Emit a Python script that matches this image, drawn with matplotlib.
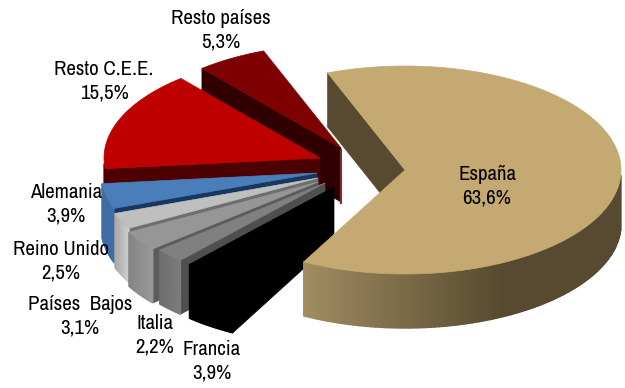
import numpy as np
import matplotlib
matplotlib.use('Agg')
import matplotlib.pyplot as plt
from matplotlib.colors import to_rgb

# reparto por destino, en el orden en que se dibuja (de atras hacia delante)
nombres = ['Resto países', 'Resto C.E.E.', 'Alemania', 'Reino Unido',
           'Países  Bajos', 'Italia', 'Francia', 'España']
valores = [5.3, 15.5, 3.9, 2.5, 3.1, 2.2, 3.9, 63.6]

# apariencia de cada porcion
col_sup = ['#7f0000', '#bf0000', '#4a7ebb', '#bfbfbf', '#969696', '#808080', '#000000', '#c4a972']
col_corte = ['#300000', '#4d0000', '#17375e', '#6e6e6e', '#5c5c5c', '#4f4f4f', '#000000', '#574a30']
col_lado = ['#300000', '#4d0000', '#3f6ca3', '#a8a8a8', '#858585', '#6e6e6e', '#000000', '#a08c60']
col_lado2 = ['#300000', '#4d0000', '#3f6ca3', '#d0d0d0', '#9a9a9a', '#7d7d7d', '#000000', '#574a30']

# vertice de cada porcion y posicion de las etiquetas, en pixeles
centros = [(341, 148), (320, 158), (317, 173), (318, 178),
           (318, 182), (325, 183), (334, 187), (405, 170)]
pos_etq = [(221, 30), (104, 81), (66, 204), (61, 261),
           (80, 316), (155, 335), (212, 361), (487, 186)]

RX, RY = 216, 104
ALTO = 54
INICIO = 111.0  # angulo donde empieza la primera porcion

fig = plt.figure(figsize=(6.25, 3.88), dpi=100)
ax = fig.add_axes([0, 0, 1, 1])
ax.set_xlim(0, 625)
ax.set_ylim(388, 0)
ax.axis('off')


def borde(cx, cy, ang):
    r = np.radians(ang)
    return cx + RX * np.cos(r), cy - RY * np.sin(r)


def mezcla(c1, c2, t):
    a, b = np.array(to_rgb(c1)), np.array(to_rgb(c2))
    return tuple(a + (b - a) * min(max(t, 0), 1))


a1 = INICIO
for i, v in enumerate(valores):
    a2 = a1 + v * 3.6
    cx, cy = centros[i]
    angs = np.arange(a1, a2 + 0.5, 1.0)
    angs[-1] = a2
    xs, ys = borde(cx, cy, angs)

    # pared del corte
    xe, ye = borde(cx, cy, a2)
    ax.fill([cx, xe, xe, cx], [cy, ye, ye + ALTO, cy + ALTO],
            color=col_corte[i], lw=0.5, zorder=i * 3 + 1)

    # pared exterior, tramo a tramo para el degradado
    vis = np.where(np.sin(np.radians(angs)) < -0.05)[0]
    if len(vis) > 1:
        x0, x1 = xs[vis].min(), min(xs[vis].max(), cx + 95)
        for j in vis[:-1]:
            t = (xs[j] - x0) / max(x1 - x0, 1)
            c = mezcla(col_lado[i], col_lado2[i], t)
            ax.fill([xs[j], xs[j + 1], xs[j + 1], xs[j]],
                    [ys[j], ys[j + 1], ys[j + 1] + ALTO, ys[j] + ALTO],
                    color=c, ec=c, lw=1.0, zorder=i * 3 + 1)

    # cara superior
    ax.fill(np.r_[cx, xs], np.r_[cy, ys], color=col_sup[i], lw=0.5, zorder=i * 3 + 2)

    # etiqueta
    texto = nombres[i] + '\n' + ('%.1f%%' % v).replace('.', ',')
    ax.text(pos_etq[i][0], pos_etq[i][1], texto, ha='center', va='center',
            fontsize=15, linespacing=1.3, color='black', zorder=50,
            family=['Archivo Narrow', 'Liberation Sans'])
    a1 = a2

# filo claro a la derecha de la porcion del fondo
ax.plot([340.5, 340.5], [150, 203], color='#7a3030', lw=1.5, zorder=2)

fig.savefig('out.png', dpi=100)
